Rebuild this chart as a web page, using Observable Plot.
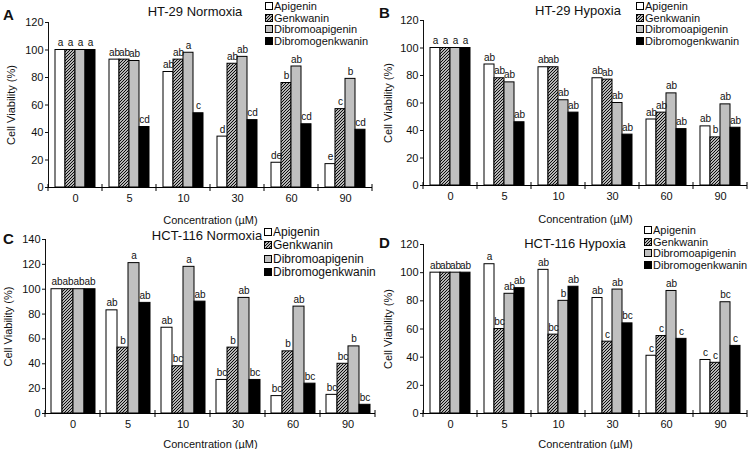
<!DOCTYPE html>
<html><head><meta charset="utf-8">
<script src="https://cdn.jsdelivr.net/npm/d3@7"></script>
<script src="https://cdn.jsdelivr.net/npm/@observablehq/plot@0.6"></script>
<style>
body{margin:0;background:#fff;font-family:"Liberation Sans",Arial,sans-serif;color:#111;}
#root{position:relative;width:756px;height:449px;overflow:hidden;background:#fff;}
.panel{position:absolute;width:378px;height:224px;}
.panel > svg{position:absolute;left:0;top:0;}
.ttl{position:absolute;font-size:13px;white-space:nowrap;transform:translate(-50%,-50%);}
.let{position:absolute;font-size:15px;font-weight:bold;line-height:15px;}
.row{position:absolute;display:flex;align-items:center;white-space:nowrap;height:12px;line-height:12px;}
.row svg.sw{display:block;width:8px;height:8px;margin-right:1px;flex:none;}
</style></head>
<body>
<svg width="0" height="0" style="position:absolute">
  <defs>
    <pattern id="hatch" patternUnits="userSpaceOnUse" width="3" height="3">
      <rect width="3" height="3" fill="white"/>
      <path d="M-1,1 L1,-1 M0,3 L3,0 M2,4 L4,2" stroke="black" stroke-width="1.1"/>
    </pattern>
  </defs>
</svg>
<div id="root"></div>
<script>
const compounds = ["Apigenin", "Genkwanin", "Dibromoapigenin", "Dibromogenkwanin"];
const concentrations = ["0", "5", "10", "30", "60", "90"];
const fills = ["white", "url(#hatch)", "#c0c0c0", "black"];

// Panel A: HT-29 Normoxia
const aApigenin = [100, 93, 84, 37, 18, 17];
const aGenkwanin = [100, 93, 93, 90, 76, 57];
const aDibromoapigenin = [100, 92, 98, 95, 88, 79];
const aDibromogenkwanin = [100, 44, 54, 49, 46, 42];
const aLabApigenin = ["a", "ab", "ab", "d", "de", "e"];
const aLabGenkwanin = ["a", "ab", "ab", "ab", "b", "c"];
const aLabDibromoapigenin = ["a", "ab", "a", "ab", "ab", "b"];
const aLabDibromogenkwanin = ["a", "cd", "c", "cd", "cd", "cd"];

// Panel B: HT-29 Hypoxia
const bApigenin = [100, 88, 86, 78, 48, 43];
const bGenkwanin = [100, 78, 86, 77, 53, 35];
const bDibromoapigenin = [100, 75, 62, 60, 67, 59];
const bDibromogenkwanin = [100, 46, 53, 37, 41, 42];
const bLabApigenin = ["a", "ab", "ab", "ab", "ab", "ab"];
const bLabGenkwanin = ["a", "ab", "ab", "ab", "ab", "b"];
const bLabDibromoapigenin = ["a", "ab", "ab", "ab", "ab", "ab"];
const bLabDibromogenkwanin = ["a", "ab", "ab", "ab", "ab", "ab"];

// Panel C: HCT-116 Normoxia
const cApigenin = [100, 83, 69, 27, 14, 15];
const cGenkwanin = [100, 53, 38, 53, 50, 40];
const cDibromoapigenin = [100, 121, 118, 93, 86, 54];
const cDibromogenkwanin = [100, 89, 90, 27, 24, 7];
const cLabApigenin = ["ab", "ab", "ab", "bc", "bc", "bc"];
const cLabGenkwanin = ["ab", "b", "bc", "b", "b", "bc"];
const cLabDibromoapigenin = ["ab", "a", "a", "ab", "ab", "b"];
const cLabDibromogenkwanin = ["ab", "ab", "ab", "bc", "bc", "bc"];

// Panel D: HCT-116 Hypoxia
const dApigenin = [100, 106, 102, 82, 41, 38];
const dGenkwanin = [100, 60, 56, 51, 55, 36];
const dDibromoapigenin = [100, 85, 80, 88, 87, 79];
const dDibromogenkwanin = [100, 89, 90, 64, 53, 48];
const dLabApigenin = ["ab", "a", "ab", "ab", "c", "c"];
const dLabGenkwanin = ["ab", "bc", "bc", "c", "c", "c"];
const dLabDibromoapigenin = ["ab", "ab", "b", "ab", "ab", "bc"];
const dLabDibromogenkwanin = ["ab", "ab", "ab", "bc", "c", "c"];

const panels = [
  {letter: "A", title: "HT-29 Normoxia", yMax: 120,
   values: [aApigenin, aGenkwanin, aDibromoapigenin, aDibromogenkwanin],
   labels: [aLabApigenin, aLabGenkwanin, aLabDibromoapigenin, aLabDibromogenkwanin],
   left: 0, top: 0, m: {l: 45, r: 4, t: 22, b: 37}, yLab: 41, xLab: 36,
   titleXY: [195, 11], letterXY: [3, 7], leg: {x: 265, y: 6, dy: 11.5, fs: 11}},
  {letter: "B", title: "HT-29 Hypoxia", yMax: 120,
   values: [bApigenin, bGenkwanin, bDibromoapigenin, bDibromogenkwanin],
   labels: [bLabApigenin, bLabGenkwanin, bLabDibromoapigenin, bLabDibromogenkwanin],
   left: 378, top: 0, m: {l: 43, r: 7, t: 20, b: 39}, yLab: 39, xLab: 37,
   titleXY: [200, 10], letterXY: [1, 5], leg: {x: 258, y: 6, dy: 11.5, fs: 11}},
  {letter: "C", title: "HCT-116 Normoxia", yMax: 140,
   values: [cApigenin, cGenkwanin, cDibromoapigenin, cDibromogenkwanin],
   labels: [cLabApigenin, cLabGenkwanin, cLabDibromoapigenin, cLabDibromogenkwanin],
   left: 0, top: 225, m: {l: 45, r: 3, t: 14, b: 36}, yLab: 41, xLab: 34,
   titleXY: [207, 10], letterXY: [3, 6], leg: {x: 264, y: 7, dy: 13.3, fs: 12}},
  {letter: "D", title: "HCT-116 Hypoxia", yMax: 120,
   values: [dApigenin, dGenkwanin, dDibromoapigenin, dDibromogenkwanin],
   labels: [dLabApigenin, dLabGenkwanin, dLabDibromoapigenin, dLabDibromogenkwanin],
   left: 378, top: 225, m: {l: 43, r: 7, t: 19, b: 36}, yLab: 39, xLab: 34,
   titleXY: [197, 18], letterXY: [1, 10], leg: {x: 266, y: 5, dy: 11.7, fs: 11}}
];

const root = document.getElementById("root");

function swatch(fill) {
  const s = d3.create("svg").attr("class", "sw").attr("width", 8).attr("height", 8).attr("viewBox", "0 0 8 8");
  s.append("rect").attr("x", 0.5).attr("y", 0.5).attr("width", 7).attr("height", 7)
    .attr("fill", fill).attr("stroke", "black").attr("stroke-width", 1);
  return s.node();
}

for (const p of panels) {
  const rows = concentrations.flatMap((c, i) => compounds.map((k, j) => ({
    conc: c, compound: k, value: p.values[j][i], label: p.labels[j][i]
  })));
  const div = document.createElement("div");
  div.className = "panel";
  div.style.left = p.left + "px";
  div.style.top = p.top + "px";
  root.appendChild(div);

  const svg = Plot.plot({
    width: 378, height: 224,
    marginLeft: p.m.l, marginRight: p.m.r, marginTop: p.m.t, marginBottom: p.m.b,
    style: {fontFamily: '"Liberation Sans", Arial, sans-serif', fontSize: "11px", color: "#111", background: "transparent", overflow: "visible"},
    fx: {domain: concentrations, padding: 0, axis: "bottom", tickSize: 0, tickPadding: 7,
         label: "Concentration (µM)", labelAnchor: "center", labelOffset: p.xLab},
    x: {domain: compounds, paddingInner: 0, paddingOuter: 0.5, axis: null},
    y: {domain: [0, p.yMax], ticks: d3.range(0, p.yMax + 1, 20), tickSize: 3, tickPadding: 2,
        line: true, label: "Cell Viability (%)", labelAnchor: "center", labelOffset: p.yLab, labelArrow: "none"},
    color: {domain: compounds, range: fills},
    marks: [
      Plot.barY(rows, {fx: "conc", x: "compound", y: "value", fill: "compound", stroke: "black", strokeWidth: 1}),
      Plot.text(rows, {fx: "conc", x: "compound", y: "value", text: "label", lineAnchor: "bottom", dy: -4, fontSize: 10, fill: "#111"}),
      Plot.ruleY([0], {stroke: "black", strokeWidth: 1})
    ]
  });
  div.appendChild(svg);

  // boundary ticks between concentration groups
  const fx = svg.scale("fx"), y = svg.scale("y");
  const y0 = y.apply(0);
  const bounds = concentrations.map(c => fx.apply(c));
  bounds.push(fx.apply(concentrations[concentrations.length - 1]) + fx.bandwidth);
  d3.select(svg).append("g").selectAll("line").data(bounds).join("line")
    .attr("x1", d => d).attr("x2", d => d).attr("y1", y0 - 3).attr("y2", y0 + 4)
    .attr("stroke", "black").attr("stroke-width", 1);

  const t = document.createElement("div");
  t.className = "ttl"; t.textContent = p.title;
  t.style.left = p.titleXY[0] + "px"; t.style.top = p.titleXY[1] + "px";
  div.appendChild(t);

  const l = document.createElement("div");
  l.className = "let"; l.textContent = p.letter;
  l.style.left = p.letterXY[0] + "px"; l.style.top = p.letterXY[1] + "px";
  div.appendChild(l);

  compounds.forEach((k, j) => {
    const r = document.createElement("div");
    r.className = "row";
    r.style.left = p.leg.x + "px";
    r.style.top = (p.leg.y + j * p.leg.dy - 6) + "px";
    r.style.fontSize = p.leg.fs + "px";
    r.appendChild(swatch(fills[j]));
    r.appendChild(document.createTextNode(k));
    div.appendChild(r);
  });
}
</script>
</body></html>
